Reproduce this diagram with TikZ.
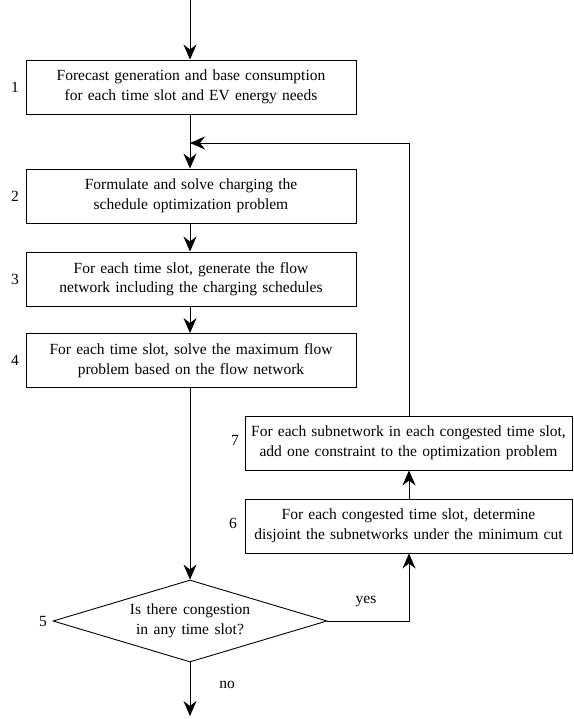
\documentclass[tikz,border=0pt]{standalone}
\usepackage{fontspec}
\setmainfont{Liberation Serif}
\usetikzlibrary{arrows.meta,shapes.geometric}
\newcommand{\flowfont}{\fontsize{15.5}{19.5}\selectfont\spaceskip=5.5pt\relax}
\begin{document}
\begin{tikzpicture}[x=1pt,y=-1pt,
  txt/.style={font=\flowfont},
  stepbox/.style={txt,draw,line width=0.9pt,minimum width=330pt,minimum height=54pt,text width=328pt,align=center,inner sep=0pt},
  sidebox/.style={txt,draw,line width=0.9pt,minimum width=327pt,minimum height=54pt,text width=325pt,align=center,inner sep=0pt},
  decide/.style={txt,draw,line width=0.9pt,diamond,aspect=3.34,minimum width=274pt,minimum height=82pt,inner sep=0pt,align=center},
  numlabel/.style={txt,inner sep=0pt},
  flow/.style={line width=0.9pt,-{Stealth[length=15pt,width=13pt,inset=5pt]}}
]
\useasboundingbox (0,0) rectangle (573,719);
\coordinate (start) at (190,0);
\node[stepbox] (b1) at (191,87) {Forecast generation and base consumption\\for each time slot and EV energy needs};
\node[stepbox] (b2) at (191,196) {Formulate and solve charging the\\schedule optimization problem};
\node[stepbox] (b3) at (191,279) {For each time slot, generate the flow\\network including the charging schedules};
\node[stepbox] (b4) at (191,360.5) {For each time slot, solve the maximum flow\\problem based on the flow network};
\node[sidebox] (b7) at (408.5,443) {For each subnetwork in each congested time slot,\\add one constraint to the optimization problem};
\node[sidebox] (b6) at (408.5,526) {For each congested time slot, determine\\disjoint the subnetworks under the minimum cut};
\node[decide] (d5) at (190,621) {Is there congestion\\in any time slot?};
\node[numlabel] (n1) at (15,87) {1};
\node[numlabel] (n2) at (15,196) {2};
\node[numlabel] (n3) at (15,279) {3};
\node[numlabel] (n4) at (15,360) {4};
\node[numlabel] (n7) at (235,440) {7};
\node[numlabel] (n6) at (233,523) {6};
\node[numlabel] (n5) at (43,621) {5};
\node[numlabel] (yes) at (366,602) {yes};
\node[numlabel] (no) at (227,685) {no};
\coordinate (join) at (190,143);
\coordinate (turn) at (409,621);
\coordinate (corner) at (409,143);
\coordinate (end) at (190,716);
\draw[flow] (start) -- (b1.north -| start);
\draw[flow] (b1.south -| start) -- (b2.north -| start);
\draw[flow] (b7.north -| corner) -- (corner) -- (join);
\draw[flow] (b2.south -| start) -- (b3.north -| start);
\draw[flow] (b3.south -| start) -- (b4.north -| start);
\draw[flow] (b4.south -| start) -- (d5.north);
\draw[flow] (d5.east) -- (turn) -- (b6.south -| turn);
\draw[flow] (b6.north -| turn) -- (b7.south -| turn);
\draw[flow] (d5.south) -- (end);
\end{tikzpicture}
\end{document}
